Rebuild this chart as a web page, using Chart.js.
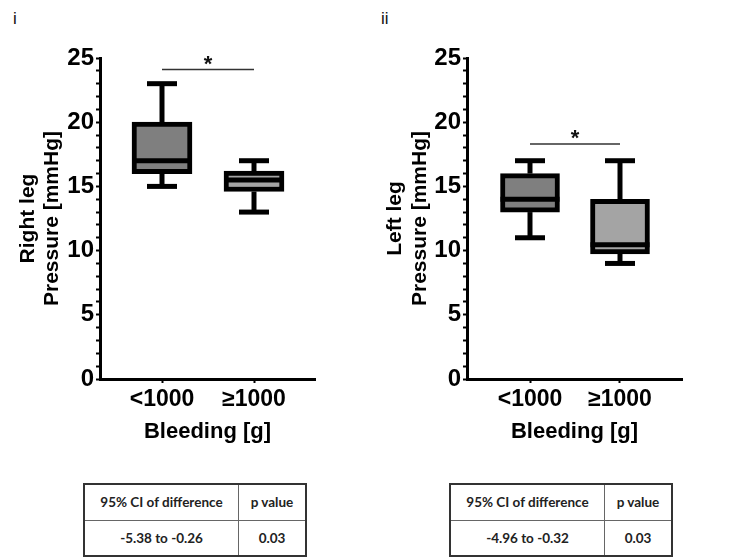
<!DOCTYPE html>
<html><head><meta charset="utf-8">
<script src="https://cdn.jsdelivr.net/npm/chart.js@4/dist/chart.umd.min.js"></script>
<style>
html,body{margin:0;padding:0;background:#fff;width:750px;height:558px;overflow:hidden;}
.wrap{position:absolute;top:0;height:450px;}
.lbl{position:absolute;font-family:"Liberation Sans",Arial,sans-serif;font-size:17px;color:#111;}
table.st{position:absolute;border-collapse:collapse;font-family:Lato,"Open Sans",sans-serif;font-weight:bold;font-size:13.5px;color:#222;border:2px solid #333;}
table.st td{border:1px solid #666;text-align:center;padding:0;}
</style></head>
<body>
<div class="lbl" style="left:13px;top:9px">i</div>
<div class="lbl" style="left:381px;top:9px">ii</div>
<div class="wrap" style="left:0;width:370px"><canvas id="c1" width="370" height="450"></canvas></div>
<div class="wrap" style="left:370px;width:380px"><canvas id="c2" width="380" height="450"></canvas></div>
<div id="tables"></div>
<script>
// ---- data ----
const categories = ['<1000', '\u22651000'];
// panel i: right leg
const rightBox = [[16, 20], [14.6, 16.2]];
const rightMedian = [17, 15.5];
const rightWhisker = [[15, 23], [13, 17]];
const rightSig = 24.1;
// panel ii: left leg
const leftBox = [[13, 16], [9.75, 14]];
const leftMedian = [14, 10.45];
const leftWhisker = [[11, 17], [9, 17]];
const leftSig = 18.3;
// tick labels / tables
const yTickValues = [0, 5, 10, 15, 20, 25];
const tableHeader = ['95% CI of difference', 'p value'];
const rightTable = ['-5.38 to -0.26', '0.03'];
const leftTable = ['-4.96 to -0.32', '0.03'];

const FAM = "'Liberation Sans', Arial, sans-serif";
const boxColors = ['#7f7f7f', '#a4a4a4'];

const boxPlugin = {
  id: 'boxExtras',
  afterDatasetsDraw(chart, args, opts) {
    const {ctx} = chart;
    const x = chart.scales.x, y = chart.scales.y;
    const meta = chart.getDatasetMeta(0);
    const line = (x1, y1, x2, y2) => { ctx.beginPath(); ctx.moveTo(x1, y1); ctx.lineTo(x2, y2); ctx.stroke(); };
    ctx.save();
    ctx.strokeStyle = '#000';
    ctx.lineCap = 'butt';
    ctx.lineWidth = 5;
    opts.medians.forEach((m, i) => {
      const bar = meta.data[i];
      const cx = x.getPixelForValue(i + 1);
      const half = bar.width / 2;
      const my = y.getPixelForValue(m);
      line(cx - half, my, cx + half, my);
      const [lo, hi] = opts.whiskers[i];
      const [b0, b1] = opts.boxes[i];
      line(cx, y.getPixelForValue(b1), cx, y.getPixelForValue(hi));
      line(cx, y.getPixelForValue(b0), cx, y.getPixelForValue(lo));
      line(cx - 15, y.getPixelForValue(hi), cx + 15, y.getPixelForValue(hi));
      line(cx - 15, y.getPixelForValue(lo), cx + 15, y.getPixelForValue(lo));
    });
    // significance bar
    const sy = y.getPixelForValue(opts.sig);
    const x1 = x.getPixelForValue(1), x2 = x.getPixelForValue(2);
    ctx.strokeStyle = '#333';
    ctx.lineWidth = 1.5;
    line(x1, sy, x2, sy);
    ctx.fillStyle = '#111';
    ctx.font = 'bold 22px ' + FAM;
    ctx.textAlign = 'center';
    ctx.textBaseline = 'alphabetic';
    ctx.fillText('*', (x1 + x2) / 2, sy + 1);
    ctx.restore();
  }
};

function makeChart(id, box, med, whisk, sig, titleLines, g) {
  return new Chart(document.getElementById(id), {
    type: 'bar',
    data: {
      datasets: [{
        data: box.map((b, i) => ({x: i + 1, y: b})),
        backgroundColor: boxColors,
        borderColor: '#000',
        borderWidth: 5,
        borderSkipped: false,
        barThickness: g.barW
      }]
    },
    plugins: [boxPlugin],
    options: {
      responsive: false,
      animation: false,
      events: [],
      layout: {padding: {top: 58, right: g.padRight, left: 0, bottom: 0}},
      plugins: {
        legend: {display: false},
        tooltip: {enabled: false},
        boxExtras: {medians: med, whiskers: whisk, boxes: box, sig: sig}
      },
      scales: {
        x: {
          type: 'linear',
          offset: false,
          min: g.xmin, max: g.xmax,
          afterBuildTicks: s => { s.ticks = categories.map((c, i) => ({value: i + 1})); },
          afterFit: s => { s.height = 71; },
          ticks: {
            callback: v => categories[v - 1] ?? '',
            font: {family: FAM, size: 23, weight: 'bold'},
            color: '#000', padding: 3, maxRotation: 0, autoSkip: false
          },
          grid: {offset: false, drawOnChartArea: false, drawTicks: true, tickLength: 4, tickWidth: 2, tickColor: '#000'},
          border: {display: true, width: 3, color: '#000'},
          title: {display: true, text: 'Bleeding [g]', color: '#000',
            font: {family: FAM, size: 22, weight: 'bold', lineHeight: 1.2},
            padding: {top: 0, bottom: 5}}
        },
        y: {
          type: 'linear',
          min: 0, max: 25,
          afterBuildTicks: s => { s.ticks = Array.from({length: 26}, (_, i) => ({value: i})); },
          afterFit: s => { s.width = g.yW; },
          ticks: {
            callback: v => yTickValues.includes(v) ? String(v) : '',
            font: {family: FAM, size: 24, weight: 'bold'},
            color: '#000', padding: 2, autoSkip: false
          },
          grid: {drawOnChartArea: false, drawTicks: true, tickLength: 4, tickWidth: 2, tickColor: '#000'},
          border: {display: true, width: 3, color: '#000'},
          title: {display: true, text: titleLines, color: '#000',
            font: {family: FAM, size: 21, weight: 'bold', lineHeight: 1.15},
            padding: {top: g.titlePad, bottom: 0}}
        }
      }
    }
  });
}

makeChart('c1', rightBox, rightMedian, rightWhisker, rightSig, ['Right leg', 'Pressure [mmHg]'],
  {barW: 60, padRight: 55, xmin: 1 - 62 / 92, xmax: 2 + 61 / 92, yW: 100, titlePad: 16});
makeChart('c2', leftBox, leftMedian, leftWhisker, leftSig, ['Left leg', 'Pressure [mmHg]'],
  {barW: 59, padRight: 68, xmin: 1 - 63 / 90, xmax: 2 + 62 / 90, yW: 97, titlePad: 13.5});

function makeTable(left, vals) {
  const t = document.createElement('table');
  t.className = 'st';
  t.style.left = left + 'px';
  t.style.top = '483px';
  t.style.width = '224px';
  t.style.height = '74px';
  const r1 = t.insertRow(), r2 = t.insertRow();
  r1.style.height = '36px';
  tableHeader.forEach((h, i) => { const c = r1.insertCell(); c.textContent = h; if (i === 0) c.style.width = '153px'; });
  vals.forEach(v => { const c = r2.insertCell(); c.textContent = v; });
  document.getElementById('tables').appendChild(t);
}
makeTable(83, rightTable);
makeTable(449, leftTable);
</script>
</body></html>
